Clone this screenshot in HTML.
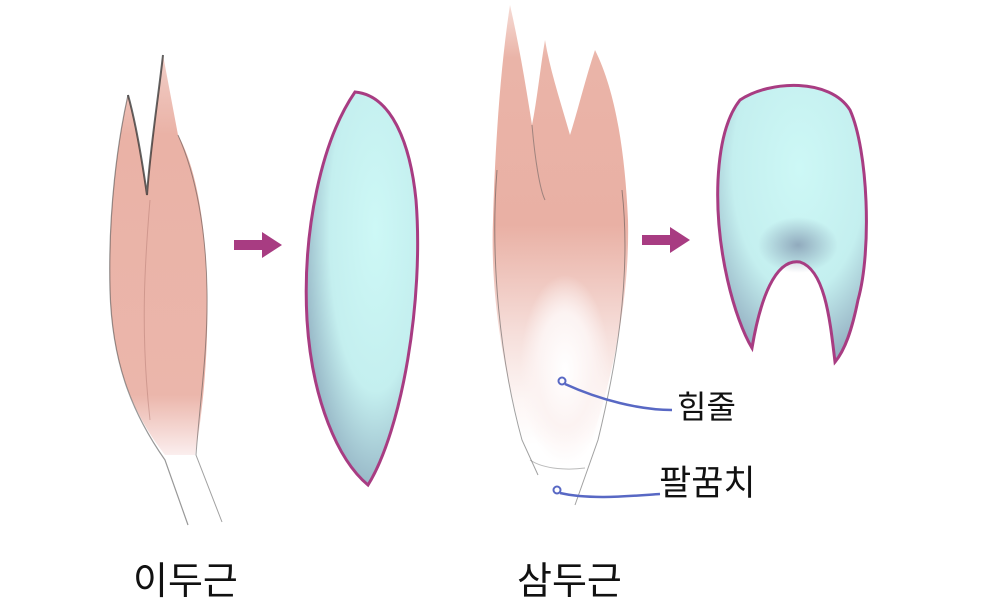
<!DOCTYPE html>
<html><head><meta charset="utf-8"><style>
html,body{margin:0;padding:0;background:#fff;}
svg{display:block}
text{font-family:"Liberation Sans","Noto Sans CJK KR","NanumGothic",sans-serif;}
</style></head><body>
<svg width="1000" height="613" viewBox="0 0 1000 613" xmlns="http://www.w3.org/2000/svg">
<defs>
<radialGradient id="blue" cx="0.62" cy="0.35" r="0.75">
<stop offset="0" stop-color="#cdf8f6"/><stop offset="0.55" stop-color="#c4efef"/><stop offset="1" stop-color="#87a3b8"/>
</radialGradient>
<radialGradient id="blue2" cx="0.55" cy="0.3" r="0.75">
<stop offset="0" stop-color="#cdf8f6"/><stop offset="0.6" stop-color="#c4efef"/><stop offset="1" stop-color="#8fa9bd"/>
</radialGradient>
<radialGradient id="arch" cx="0.5" cy="0.5" r="0.5">
<stop offset="0" stop-color="#8398b0" stop-opacity="0.8"/><stop offset="1" stop-color="#8398b0" stop-opacity="0"/>
</radialGradient>
<linearGradient id="pinkT" x1="0" y1="0" x2="0" y2="1">
<stop offset="0" stop-color="#f6dcd6"/><stop offset="0.12" stop-color="#eab4a8"/><stop offset="0.5" stop-color="#e9b0a4"/><stop offset="0.75" stop-color="#f6dfdb"/><stop offset="0.9" stop-color="#fdf6f5"/><stop offset="1" stop-color="#fff"/>
</linearGradient>
<linearGradient id="pinkB" x1="0" y1="0" x2="0" y2="1">
<stop offset="0" stop-color="#f1cec7"/><stop offset="0.2" stop-color="#eab2a6"/><stop offset="0.85" stop-color="#ebb6ab"/><stop offset="1" stop-color="#fbeeee"/>
</linearGradient>
<radialGradient id="tendon" cx="0.5" cy="0.5" r="0.5">
<stop offset="0" stop-color="#fff"/><stop offset="0.6" stop-color="#fcf3f2"/><stop offset="1" stop-color="#fcf3f2" stop-opacity="0"/>
</radialGradient>
</defs>
<!-- biceps -->
<path d="M128 95 C118 140 108 210 110 290 C112 360 130 410 165 455 L195 455 C205 400 210 330 206 260 C202 200 192 160 178 135 L163 55 C158 100 150 150 147 195 C142 160 135 120 128 95 Z" fill="url(#pinkB)"/>
<path d="M128 95 C118 140 108 210 110 290 C112 360 130 410 165 460 L188 525" fill="none" stroke="#444" stroke-width="1.2" opacity="0.55"/>
<path d="M163 55 C158 100 150 150 147 195 C142 160 135 120 128 95" fill="none" stroke="#222" stroke-width="2" opacity="0.7"/>
<path d="M178 135 C196 175 206 230 207 290 C208 350 200 400 196 455 L222 522" fill="none" stroke="#444" stroke-width="1" opacity="0.5"/>
<path d="M150 200 C145 260 140 330 150 420" fill="none" stroke="#a76f66" stroke-width="1" opacity="0.4"/>
<!-- arrow 1 -->
<path d="M234 240 H262 V232 L282 245 L262 258 V250 H234 Z" fill="#a83c82"/>
<!-- ellipse -->
<path d="M355 92 C322 140 302 230 307 320 C312 400 338 460 368 485 C402 430 424 300 416 200 C410 140 390 95 355 92 Z" fill="url(#blue)" stroke="#a83c82" stroke-width="3"/>
<!-- triceps -->
<path d="M510 5 C500 70 495 150 493 220 C490 300 505 380 525 445 L590 445 C612 380 630 300 628 220 C625 150 615 90 595 50 C585 80 578 110 570 135 C560 100 550 70 545 40 C540 70 537 100 532 125 C525 80 518 40 510 5 Z" fill="url(#pinkT)"/>
<ellipse cx="565" cy="370" rx="45" ry="95" fill="url(#tendon)"/>
<path d="M497 170 C490 260 500 360 522 440 L538 475" fill="none" stroke="#444" stroke-width="1" opacity="0.5"/>
<path d="M622 190 C632 280 615 370 598 440 L575 505" fill="none" stroke="#444" stroke-width="1" opacity="0.5"/>
<path d="M532 125 C535 160 540 190 545 200" fill="none" stroke="#555" stroke-width="1" opacity="0.5"/>
<path d="M530 460 C545 470 570 470 585 468" fill="none" stroke="#777" stroke-width="1" opacity="0.5"/>
<!-- arrow 2 -->
<path d="M642 235 H670 V227 L690 240 L670 253 V245 H642 Z" fill="#a83c82"/>
<!-- horseshoe -->
<path d="M740 100 C770 80 830 78 850 110 C868 150 872 250 858 300 C852 330 845 350 835 362 C830 320 825 270 800 262 C775 258 760 300 752 348 C735 320 715 250 718 180 C720 140 728 115 740 100 Z" fill="url(#blue2)"/>
<ellipse cx="798" cy="245" rx="40" ry="28" fill="url(#arch)"/>
<path d="M740 100 C770 80 830 78 850 110 C868 150 872 250 858 300 C852 330 845 350 835 362 C830 320 825 270 800 262 C775 258 760 300 752 348 C735 320 715 250 718 180 C720 140 728 115 740 100 Z" fill="none" stroke="#a83c82" stroke-width="3"/>
<!-- leaders -->
<circle cx="562" cy="381" r="3.5" fill="none" stroke="#5868c4" stroke-width="2"/>
<path d="M565 384 C600 400 640 410 672 410" fill="none" stroke="#5868c4" stroke-width="2.5"/>
<circle cx="557" cy="490" r="3.5" fill="none" stroke="#5868c4" stroke-width="2"/>
<path d="M560 493 C590 500 630 496 660 494" fill="none" stroke="#5868c4" stroke-width="2.5"/>
<!-- labels -->
<text x="677" y="418" font-size="32" fill="#111">힘줄</text>
<text x="659" y="495" font-size="35" fill="#111">팔꿈치</text>
<text x="133" y="594" font-size="38" fill="#111">이두근</text>
<text x="517" y="594" font-size="38" fill="#111">삼두근</text>
</svg>
</body></html>
